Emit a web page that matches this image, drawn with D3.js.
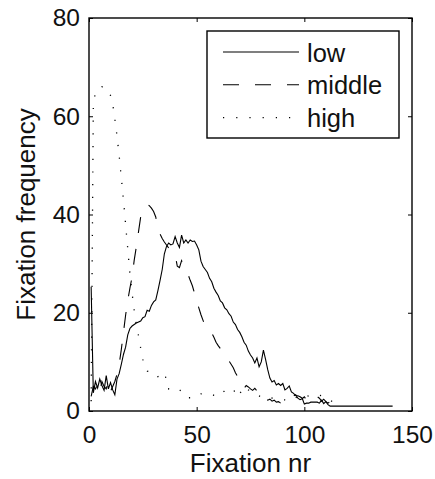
<!DOCTYPE html>
<html>
<head>
<meta charset="utf-8">
<script src="https://cdn.jsdelivr.net/npm/d3@7"></script>
<style>
  body { margin: 0; background: #fff; }
  svg text { font-family: "Liberation Sans", Arial, Helvetica, sans-serif; fill: #111; }
</style>
</head>
<body>
<div id="chart"></div>
<script>
// values (fixation number, frequency)
const lowX = [1,2,3,4,5,6,7,8,9,10,11,12,13,14,15,16,17,18,19,20,22,24,25,26,27,28,29,30,31,32,33,34,35,36,37,38,39,40,41,42,43,44,45,46,47,48,49,50,51,52,53,54,55,56,57,58,59,60,61,62,63,64,65,66,67,68,69,70,71,72,73,74,75,76,77,78,79,80,81,82,83,84,85,86,87,88,89,90,91,92,93,94,95,96,97,98,99,100,101,102,103,104,105,106,107,108,109,110,111,112,141];
const lowY = [25.3,3.7,6,4.7,6.5,5.2,4.2,7.2,4.5,5.8,4.3,3.3,6.5,7.6,9.5,11.5,13,15.5,16.8,17.3,17.9,18.3,19,19.2,20.5,20.3,21.5,22.2,22.6,24.5,26.6,28.8,32,33.5,34.2,33.8,34,35.5,34.2,33.3,35.8,34.2,34.8,34.2,34.8,34.5,34.6,33.8,32.8,30.5,29.4,28.8,28.2,27,26.3,25,24.2,23.5,22.4,22,21,20.6,19.8,19.3,18.1,17.6,16.6,16,15.1,14,13.4,12.2,11.4,10.8,9.8,10.8,9,10,12.4,10.5,8.4,6.7,5.9,6.2,5.3,5.6,5.2,5.6,4.3,4.6,5.1,3.9,3.6,3.1,3.1,2.9,2.6,1.4,1.6,1.6,1.8,1.8,1.8,1.8,1.6,2.2,1.5,1.9,1.3,1.0,1.0];

const middleX = [1,2,3,4,5,6,7,8,9,10,11,12,13,14,15,16,17,18,19,20,21,22,23,24,25,26,27,28,29,30,31,32,33,34,35,36,37,38,39,40,41,42,43,44,45,46,47,48,49,50,51,52,53,54,55,56,57,58,59,60,61,62,63,64,65,66,67,68,69,70,71,72,73,74,75,76,77,78,79,80,81,82,83,84,85,86,87,88,89,90,91,92,93,94,95,96,97,98,99,100,101,102,103,104,105,106,107,108,109,110,111,112,113];
const middleY = [3,5,4.5,5.5,4,6,5,4.5,6,4,5,6,7.5,9.5,12.5,16,19.5,22.5,25,27.3,30.7,33.5,36.5,39.5,41,41.6,42,41.8,41.3,40.6,39.5,37,36,35.1,34.4,33.8,33.2,32.6,32.2,31.8,29.5,29.2,30.6,29.6,28.6,27.8,26.6,25.5,24,22.3,21,19.6,18.4,17.3,16.5,16.2,15.9,15,14,13.3,12.7,12.2,11.4,10.8,10.2,9.5,8.8,7.8,7,6.2,5.6,4.6,5.2,4.9,4.5,4.2,4.6,4.1,4.3,3.8,3,2.6,2.2,2.4,2,2.2,1.8,1.9,1.6,1.8,2,1.9,2.4,2.8,3.1,3.3,2.6,2.3,2.5,2.9,2.2,1.8,1.9,2.3,2.7,2.9,2.6,2,2.4,1.9,1.6,1.9,1.3];

const highX = [1,2,3,4,5,6,7,8,9,10,11,12,13,14,15,16,17,18,19,20,21,22,23,24,25,26,27,28,29,30,31,32,33,34,35,36,37,38,39,40,41,42,43,44,45,46,47,48,49,50,51,52,54,56,58,60,62,64,66,67,68,69,70,71,72,73,74,76,78,80,83,86,90,94,96,98,101,104,107,110,113];
const highY = [2,62,65,65.5,65.8,66,65.8,65.6,65.3,64.2,62.5,59.5,56,52,47.5,43,38,33,28,24,20.5,17.5,15.3,12.8,10.5,9,8.1,8,7.9,7.9,7.8,7,6,6.6,6.8,6.9,4.5,4.6,4.7,4.8,4.5,4.3,4,3.9,3.2,2.7,2.7,2.7,2.7,3,3.3,3.5,3.5,3.5,3.2,2.9,3.7,4.5,4.5,4.5,3.6,2.8,3.5,4.2,5,4.6,4.3,3.9,3.2,2.9,2.7,2.6,2.3,2.1,2.7,3.3,3.1,2.9,3.2,2.9,1.9];

const seriesNames = ["low", "middle", "high"];
const xTicks = [0, 50, 100, 150];
const yTicks = [0, 20, 40, 60, 80];

const width = 435, height = 479;
const margin = {top: 18, right: 23, bottom: 68, left: 89};
const innerW = width - margin.left - margin.right;
const innerH = height - margin.top - margin.bottom;

const svg = d3.select("#chart").append("svg")
  .attr("width", width)
  .attr("height", height);

const g = svg.append("g")
  .attr("transform", `translate(${margin.left},${margin.top})`);

const x = d3.scaleLinear().domain([0, 150]).range([0, innerW]);
const y = d3.scaleLinear().domain([0, 80]).range([innerH, 0]);

// line styles: solid, dashed, dotted
const dashes = ["none", "16,16", "1.2,11.5"];
const widths = [1.1, 1.1, 1.3];

const series = [
  lowX.map((v, i) => [v, lowY[i]]),
  middleX.map((v, i) => [v, middleY[i]]),
  highX.map((v, i) => [v, highY[i]])
];

const line = d3.line().x(d => x(d[0])).y(d => y(d[1]));

g.selectAll("path.series")
  .data(series)
  .enter().append("path")
  .attr("class", "series")
  .attr("d", line)
  .attr("fill", "none")
  .attr("stroke", "#000")
  .attr("stroke-width", (d, i) => widths[i])
  .attr("stroke-dasharray", (d, i) => dashes[i]);

// axes, ticks pointing inwards
const fmt = d3.format("d");
g.append("g")
  .attr("transform", `translate(0,${innerH})`)
  .call(d3.axisBottom(x).tickValues(xTicks).tickFormat(fmt).tickSizeInner(-4).tickSizeOuter(0).tickPadding(15));
g.append("g")
  .call(d3.axisLeft(y).tickValues(yTicks).tickFormat(fmt).tickSizeInner(-4).tickSizeOuter(0).tickPadding(9));
g.append("g")
  .call(d3.axisTop(x).tickValues(xTicks).tickFormat("").tickSizeInner(-4).tickSizeOuter(0));
g.append("g")
  .attr("transform", `translate(${innerW},0)`)
  .call(d3.axisRight(y).tickValues(yTicks).tickFormat("").tickSizeInner(-4).tickSizeOuter(0));

g.selectAll(".domain").remove();
g.selectAll(".tick line").attr("stroke", "#000").attr("stroke-width", 1);
g.selectAll(".tick text").attr("font-size", 24.5).attr("fill", "#111")
  .attr("font-family", "'Liberation Sans', Arial, sans-serif");

// frame
g.append("rect")
  .attr("width", innerW)
  .attr("height", innerH)
  .attr("fill", "none")
  .attr("stroke", "#000")
  .attr("stroke-width", 1.4);

// axis labels
g.append("text")
  .attr("x", innerW / 2)
  .attr("y", innerH + 61)
  .attr("text-anchor", "middle")
  .attr("font-size", 26)
  .text("Fixation nr");

g.append("text")
  .attr("transform", `translate(${35 - margin.left},${innerH / 2}) rotate(-90)`)
  .attr("text-anchor", "middle")
  .attr("font-size", 26)
  .text("Fixation frequency");

// legend
const legend = svg.append("g").attr("transform", "translate(207,31)");
legend.append("rect")
  .attr("width", 192)
  .attr("height", 107)
  .attr("fill", "#fff")
  .attr("stroke", "#000")
  .attr("stroke-width", 1.4);

const rows = legend.selectAll("g.row")
  .data(seriesNames)
  .enter().append("g")
  .attr("class", "row")
  .attr("transform", (d, i) => `translate(0,${21 + i * 32.8})`);

rows.append("line")
  .attr("x1", 16).attr("x2", 92)
  .attr("stroke", "#000")
  .attr("stroke-width", (d, i) => widths[i])
  .attr("stroke-dasharray", (d, i) => dashes[i] === "1.2,11.5" ? "1.2,12" : dashes[i]);

rows.append("text")
  .attr("x", 100)
  .attr("y", 9.5)
  .attr("font-size", 25.5)
  .text(d => d);
</script>
</body>
</html>
